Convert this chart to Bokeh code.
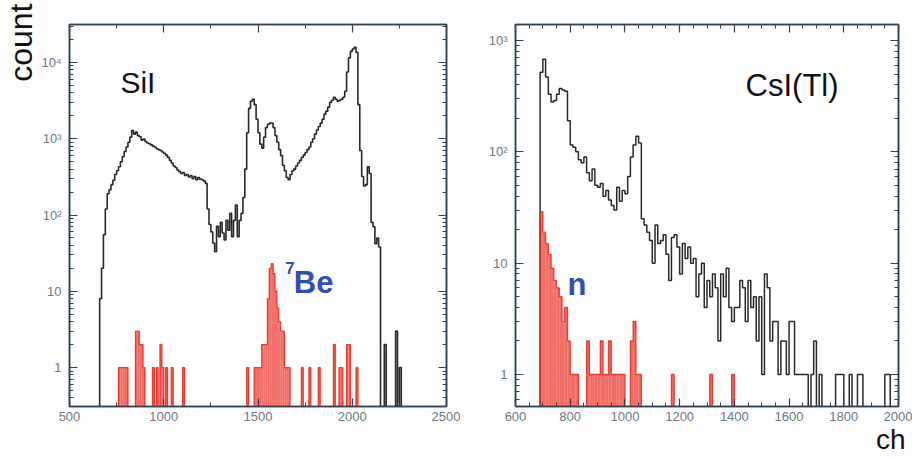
import numpy as np
from math import pi
from bokeh.plotting import figure
from bokeh.layouts import row
from bokeh.models import (FixedTicker, Label, LinearAxis, LogAxis, Range1d,
                          CustomJSTickFormatter, Title)
from bokeh.embed import file_html
from bokeh.resources import INLINE

BIN = 10  # channels per histogram bin

# ---------------- Left panel: SiI ----------------
sii_start = 660
sii_counts = [
    8, 20, 55, 120, 190, 215, 250, 285, 340, 380,            # 660-750
    430, 500, 580, 680, 780, 900, 1050, 1280, 1150, 1220,    # 760-850
    1100, 1060, 960, 990, 920, 880, 860, 830, 800, 780,      # 860-950
    740, 720, 700, 670, 640, 610, 570, 520, 480, 440,        # 960-1050
    420, 390, 370, 350, 360, 330, 340, 315, 330, 300,        # 1060-1150
    320, 290, 310, 295, 290, 280, 260, 120, 75, 60,          # 1160-1250
    43, 33, 71, 52, 80, 58, 47, 85, 63, 105,                 # 1260-1350
    52, 85, 135, 52, 85, 105, 170, 400, 1200, 2500,          # 1360-1450
    3100, 3300, 2800, 1800, 1200, 850, 750, 1050, 1400, 1550,  # 1460-1550
    1600, 1600, 1400, 1100, 900, 720, 600, 450, 380, 310,    # 1560-1650
    290, 340, 380, 400, 440, 480, 520, 570, 610, 660,        # 1660-1750
    720, 780, 900, 1000, 1150, 1300, 1450, 1600, 1800, 2100,  # 1760-1850
    2300, 2600, 3000, 3200, 3500, 3300, 3100, 3200, 3300, 3500,  # 1860-1950
    4200, 7500, 11500, 14000, 15000, 15800, 13500, 2800, 700, 320,  # 1960-2050
    240, 250, 430, 350, 80, 70, 42, 50, 38,                  # 2060-2140
]
sii_tail_ch = [2170, 2230, 2250]
sii_tail_counts = [2, 3, 1]

be7_ch = [760, 770, 780, 790, 800, 850, 860, 870, 880, 890,
          940, 960, 980, 990, 1010, 1040, 1100,
          1440, 1480, 1490, 1500, 1510, 1520, 1530, 1540, 1550, 1560,
          1570, 1580, 1590, 1600, 1610, 1620, 1630, 1640, 1650, 1660,
          1730, 1770, 1820, 1900, 1930, 1940, 1970, 1980, 2020]
be7_counts = [1, 1, 1, 1, 1, 3, 3, 2, 2, 1,
              1, 1, 2, 1, 1, 1, 1,
              1, 1, 1, 1, 1, 2, 2, 2, 8, 20,
              23, 17, 10, 6, 4, 3, 3, 1, 1, 1,
              1, 1, 1, 2, 1, 1, 2, 2, 1]

# ---------------- Right panel: CsI(Tl) ----------------
csi_start = 690
csi_counts = [
    520, 680, 470, 330, 280, 290, 330, 370, 360, 350,        # 690-780
    190, 115, 110, 100, 85, 80, 90, 65, 55, 70,              # 790-880
    50, 48, 52, 40, 45, 37, 33, 30, 48, 36,                  # 890-980
    45, 42, 60, 90, 115, 138, 120, 25, 22, 19,               # 990-1080
    16, 10, 22, 15, 16, 18, 12, 7, 17, 18,                   # 1090-1180
    14, 8, 15, 11, 14, 10, 11, 5, 8, 10,                     # 1190-1280
    4, 7, 5, 8, 6, 2, 8, 5, 9, 4,                            # 1290-1380
    3, 4, 4, 7, 6, 3, 7, 4, 5, 2,                            # 1390-1480
    5, 1, 8, 6, 2, 3, 3, 1, 2, 2,                            # 1490-1580
    1, 3, 3, 1, 1, 1, 1, 1, 0, 1,                            # 1590-1680
    2, 0, 1, 0, 0, 0, 0, 0, 1, 1,                            # 1690-1780
    1, 0, 0, 1, 0, 0, 1, 1, 0, 0,                            # 1790-1880
    0, 0, 0, 0, 0, 0, 1, 1, 0,                               # 1890-1970
]

n_ch = [690, 700, 710, 720, 730, 740, 750, 760, 770, 780, 790, 800, 810, 820,
        860, 870, 880, 890, 900, 910, 920, 930, 940, 950, 960, 970, 980, 990,
        1020, 1030, 1040, 1050, 1170, 1310, 1390]
n_counts = [29, 19, 15, 12, 9, 7, 6, 5, 3, 4, 2, 1, 1, 1,
            2, 1, 1, 1, 1, 2, 1, 1, 2, 1, 1, 1, 1, 1,
            2, 3, 1, 1, 1, 1, 1]

# tick values
sii_xticks = [500, 1000, 1500, 2000, 2500]
sii_yticks = [1, 10, 100, 1000, 10000]
csi_xticks = [600, 800, 1000, 1200, 1400, 1600, 1800, 2000]
csi_yticks = [1, 10, 100, 1000]
ylabels = {1: "1", 10: "10", 100: "10\u00b2", 1000: "10\u00b3", 10000: "10\u2074"}

AX = "#2e4352"
LBL = "#6a7986"
RED = "#ec2a1e"
BLUE = "#2f4fb5"
FONT = "Liberation Sans"
FLOOR = 1e-3
H = 457


def sparse_to_dense(chs, cnts, lo, hi):
    n = (hi - lo) // BIN
    out = np.zeros(n)
    for c, v in zip(chs, cnts):
        out[(c - lo) // BIN] += v
    return out


def step_path(lo, counts):
    xs, ys = [lo], [FLOOR]
    for i, v in enumerate(counts):
        x0 = lo + i * BIN
        y = v if v > 0 else FLOOR
        xs += [x0, x0 + BIN]
        ys += [y, y]
    xs.append(lo + len(counts) * BIN)
    ys.append(FLOOR)
    return xs, ys


def log_minor(lo_dec, hi_dec):
    return [k * 10.0 ** d for d in range(lo_dec, hi_dec + 1) for k in range(2, 10)]


def style_axis(ax, show=True):
    ax.axis_line_color = AX
    ax.axis_line_width = 1.5
    ax.major_tick_line_color = AX
    ax.minor_tick_line_color = AX
    ax.major_tick_line_width = 1.2
    ax.major_tick_in = 8
    ax.major_tick_out = 0
    ax.minor_tick_in = 4
    ax.minor_tick_out = 0
    ax.major_label_text_font = FONT
    ax.major_label_text_font_size = "13px"
    ax.major_label_text_color = LBL
    if not show:
        ax.formatter = CustomJSTickFormatter(code="return ''")
        ax.major_label_text_font_size = "0px"


def make_fig(xr, yr, width, bl, br, xt, xminor, yt, ymin):
    p = figure(width=width, height=H, x_range=xr, y_range=yr, y_axis_type="log",
               output_backend="svg", toolbar_location=None,
               min_border_left=bl, min_border_right=br,
               min_border_top=24, min_border_bottom=51)
    p.xgrid.visible = False
    p.ygrid.visible = False
    p.outline_line_color = AX
    p.outline_line_width = 1.5
    p.background_fill_color = "white"
    p.border_fill_color = "white"
    p.xaxis.ticker = FixedTicker(ticks=xt, minor_ticks=xminor)
    p.yaxis.ticker = FixedTicker(ticks=yt, minor_ticks=ymin)
    p.yaxis.major_label_overrides = {v: ylabels[v] for v in yt}
    p.xaxis.major_label_standoff = 5
    p.yaxis.major_label_standoff = 8
    for ax in p.xaxis + p.yaxis:
        style_axis(ax)
    top = LinearAxis(ticker=FixedTicker(ticks=xt, minor_ticks=xminor))
    right = LogAxis(ticker=FixedTicker(ticks=yt, minor_ticks=ymin))
    style_axis(top, show=False)
    style_axis(right, show=False)
    p.add_layout(top, "above")
    p.add_layout(right, "right")
    return p


def draw_hist(p, lo, counts, color, width, fill_alpha=0.0):
    xs, ys = step_path(lo, counts)
    if fill_alpha > 0:
        lefts = [lo + i * BIN for i, v in enumerate(counts) if v > 0]
        tops = [v for v in counts if v > 0]
        p.quad(left=lefts, right=[l + BIN for l in lefts], top=tops, bottom=FLOOR,
               fill_color=color, fill_alpha=fill_alpha, line_color=None)
    p.line(xs, ys, line_color=color, line_width=width, line_alpha=0.9)


# ---------- Left figure ----------
p1 = make_fig(Range1d(500, 2500), Range1d(10 ** -0.511, 10 ** 4.498), 460, 65, 14,
              sii_xticks, [750, 1250, 1750, 2250], sii_yticks, log_minor(-1, 4))

sii_hi = 2260
sii_dense = sparse_to_dense(sii_tail_ch, sii_tail_counts, sii_start, sii_hi)
sii_dense[:len(sii_counts)] += np.array(sii_counts, dtype=float)
draw_hist(p1, sii_start, sii_dense, "#111111", 1.6)

be_lo = 750
draw_hist(p1, be_lo, sparse_to_dense(be7_ch, be7_counts, be_lo, 2040), RED, 1.3, 0.68)

p1.add_layout(Label(x=770, y=5400, text="SiI", text_font=FONT,
                    text_font_size="30px", text_color="#111111",
                    text_align="left", text_baseline="alphabetic"))
p1.add_layout(Label(x=1645, y=20.3, text="7", text_font=FONT,
                    text_font_size="17px", text_font_style="bold",
                    text_color=BLUE, text_align="left", text_baseline="alphabetic"))
p1.add_layout(Label(x=1690, y=12.9, text="Be", text_font=FONT,
                    text_font_size="31px", text_font_style="bold",
                    text_color=BLUE, text_align="left", text_baseline="alphabetic"))
p1.add_layout(Title(text="count", align="right", offset=-21, standoff=0,
                    text_font=FONT, text_font_size="32px", text_font_style="normal",
                    text_color="#111111"), "left")

# ---------- Right figure ----------
p2 = make_fig(Range1d(600, 2000), Range1d(10 ** -0.2875, 10 ** 3.144), 452, 55, 14,
              csi_xticks, [x for x in range(650, 2000, 50) if x % 200],
              csi_yticks, log_minor(-1, 3))

draw_hist(p2, csi_start, np.array(csi_counts, dtype=float), "#111111", 1.5)
n_lo = 680
draw_hist(p2, n_lo, sparse_to_dense(n_ch, n_counts, n_lo, 1400), RED, 1.3, 0.68)

p2.add_layout(Label(x=1441, y=394, text="CsI(Tl)", text_font=FONT,
                    text_font_size="31px", text_color="#111111",
                    text_align="left", text_baseline="alphabetic"))
p2.add_layout(Label(x=790, y=6.5, text="n", text_font=FONT,
                    text_font_size="31px", text_font_style="bold",
                    text_color=BLUE, text_align="left", text_baseline="alphabetic"))
p2.add_layout(Title(text="ch", align="right", offset=-7, standoff=0,
                    vertical_align="top", text_font=FONT, text_font_size="28px",
                    text_font_style="normal", text_color="#111111"), "below")

layout = row(p1, p2)
open("out.html", "w").write(file_html(layout, INLINE))
